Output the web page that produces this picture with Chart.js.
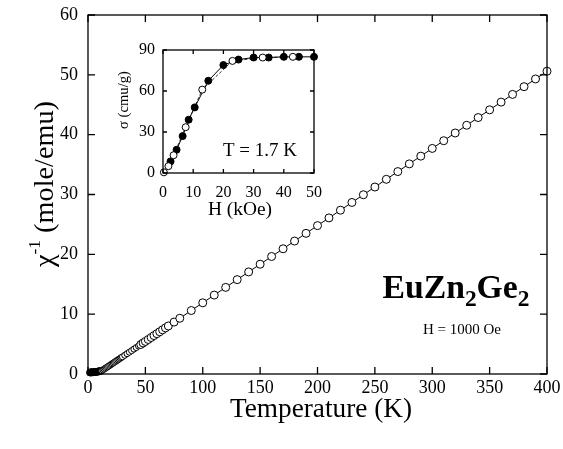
<!DOCTYPE html>
<html>
<head>
<meta charset="utf-8">
<script src="https://cdn.jsdelivr.net/npm/chart.js@4.4.0/dist/chart.umd.min.js"></script>
<style>
  html, body { margin: 0; padding: 0; background: #fff; }
  #wrap { position: relative; width: 563px; height: 449px; }
  #main { position: absolute; left: 0; top: 0; }
  #inset { position: absolute; left: 105px; top: 40px; }
</style>
</head>
<body>
<div id="wrap">
  <canvas id="main" width="563" height="449"></canvas>
  <canvas id="inset" width="220" height="185"></canvas>
</div>
<script>
// main panel: inverse susceptibility vs temperature
const lowTemps = [1.8, 2.5, 3, 4, 5, 6, 7, 8, 9, 10, 11];
const lowChiInv = [0.25, 0.27, 0.28, 0.3, 0.31, 0.33, 0.35, 0.38, 0.42, 0.47, 0.51];

const temps = [12, 13, 14, 15, 16, 17, 18, 19, 20, 21, 22, 23, 24, 25, 26, 27, 28, 29, 30,
  32, 34, 36, 38, 40, 42, 44, 46, 48, 50, 52.5, 55, 57.5, 60, 62.5, 65, 67.5, 70, 75, 80,
  90, 100, 110, 120, 130, 140, 150, 160, 170, 180, 190, 200, 210, 220, 230, 240, 250,
  260, 270, 280, 290, 300, 310, 320, 330, 340, 350, 360, 370, 380, 390, 400];
const chiInv = [0.55, 0.68, 0.81, 0.94, 1.06, 1.19, 1.32, 1.45, 1.58, 1.71, 1.84, 1.97, 2.10, 2.23, 2.35, 2.48, 2.61, 2.74, 2.87,
  3.13, 3.39, 3.64, 3.90, 4.16, 4.42, 4.68, 4.93, 5.19, 5.45, 5.77, 6.10, 6.42, 6.74, 7.06, 7.39, 7.71, 8.03, 8.68, 9.32,
  10.61, 11.9, 13.19, 14.48, 15.77, 17.06, 18.35, 19.64, 20.93, 22.22, 23.51, 24.8, 26.09, 27.38, 28.67, 29.96, 31.25,
  32.54, 33.83, 35.12, 36.41, 37.7, 38.99, 40.28, 41.57, 42.86, 44.15, 45.44, 46.73, 48.02, 49.31, 50.6];

const tempTicks = [0, 50, 100, 150, 200, 250, 300, 350, 400];
const chiTicks = [0, 10, 20, 30, 40, 50, 60];

// inset: magnetization vs field at 1.7 K
const fieldUp = [2.5, 4.5, 6.5, 8.5, 10.5, 15, 20, 25, 30, 35, 40, 45, 50];
const sigmaUp = [8.5, 17, 27, 39, 48, 67.5, 79, 83, 84.5, 84.5, 85, 85, 85];
const fieldDown = [0.3, 1.8, 3.5, 7.5, 13, 23, 33, 43];
const sigmaDown = [0.5, 5, 13, 33.5, 61, 82, 84.5, 85];

const fieldTicks = [0, 10, 20, 30, 40, 50];
const sigmaTicks = [0, 30, 60, 90];

const SERIF = '"Liberation Serif", "Times New Roman", serif';

function pts(xs, ys) {
  return xs.map((x, i) => ({ x: x, y: ys[i] }));
}

// frame with inward tick marks on all four sides
function framePlugin(len) {
  return {
    id: 'frame',
    afterDatasetsDraw(chart) {
      const ctx = chart.ctx;
      const a = chart.chartArea;
      const xs = chart.scales.x, ys = chart.scales.y;
      ctx.save();
      ctx.strokeStyle = '#000';
      ctx.lineWidth = 1.3;
      ctx.strokeRect(a.left, a.top, a.right - a.left, a.bottom - a.top);
      ctx.beginPath();
      xs.ticks.forEach(t => {
        const px = xs.getPixelForValue(t.value);
        ctx.moveTo(px, a.bottom); ctx.lineTo(px, a.bottom - len);
        ctx.moveTo(px, a.top); ctx.lineTo(px, a.top + len);
      });
      ys.ticks.forEach(t => {
        const py = ys.getPixelForValue(t.value);
        ctx.moveTo(a.left, py); ctx.lineTo(a.left + len, py);
        ctx.moveTo(a.right, py); ctx.lineTo(a.right - len, py);
      });
      ctx.stroke();
      ctx.restore();
    }
  };
}

// text runs [str, size, dy], drawn one after another, sized to a given width
function runsWidth(ctx, runs, weight) {
  let w = 0;
  runs.forEach(r => {
    ctx.font = (weight || '') + ' ' + r[1] + 'px ' + SERIF;
    w += ctx.measureText(r[0]).width;
  });
  return w;
}
function drawFitted(ctx, runs, cx, y, width, weight) {
  const w = runsWidth(ctx, runs, weight);
  const k = width / w;
  ctx.save();
  ctx.translate(cx, y);
  ctx.scale(k, k);
  ctx.textAlign = 'left';
  let x = -w / 2;
  runs.forEach(r => {
    ctx.font = (weight || '') + ' ' + r[1] + 'px ' + SERIF;
    ctx.fillText(r[0], x, r[2] || 0);
    x += ctx.measureText(r[0]).width;
  });
  ctx.restore();
}

const mainLabels = {
  id: 'mainLabels',
  afterDraw(chart) {
    const ctx = chart.ctx;
    ctx.save();
    ctx.fillStyle = '#000';
    ctx.textBaseline = 'alphabetic';

    drawFitted(ctx, [['Temperature (K)', 26, 0]], 321, 417, 182);

    ctx.save();
    ctx.translate(53, 184);
    ctx.rotate(-Math.PI / 2);
    drawFitted(ctx, [['\u03c7', 26, 0], ['-1', 16, -12], [' (mole/emu)', 26, 0]], 0, 0, 166);
    ctx.restore();

    drawFitted(ctx, [['EuZn', 33, 0], ['2', 23, 8], ['Ge', 33, 0], ['2', 23, 8]],
      456, 298, 147, 'bold');

    drawFitted(ctx, [['H = 1000 Oe', 15, 0]], 462, 334, 78);
    ctx.restore();
  }
};

const insetLabels = {
  id: 'insetLabels',
  afterDraw(chart) {
    const ctx = chart.ctx;
    ctx.save();
    ctx.fillStyle = '#000';
    ctx.textBaseline = 'alphabetic';
    drawFitted(ctx, [['H (kOe)', 19, 0]], 135, 175, 64);
    drawFitted(ctx, [['T = 1.7 K', 19, 0]], 155, 116, 74);
    ctx.save();
    ctx.translate(23, 60);
    ctx.rotate(-Math.PI / 2);
    drawFitted(ctx, [['\u03c3 (cmu/g)', 14, 0]], 0, 0, 58);
    ctx.restore();
    ctx.restore();
  }
};

function setTicks(list) {
  return s => { s.ticks = list.map(v => ({ value: v })); };
}

new Chart(document.getElementById('main'), {
  type: 'scatter',
  data: {
    datasets: [
      {
        data: pts(temps, chiInv),
        showLine: true,
        borderColor: '#000',
        borderWidth: 1,
        pointBackgroundColor: '#fff',
        pointBorderColor: '#000',
        pointBorderWidth: 1,
        pointRadius: c => (c.raw && c.raw.x < 45 ? 3 : 4),
        clip: false
      },
      {
        data: pts(lowTemps, lowChiInv),
        showLine: true,
        borderColor: '#000',
        borderWidth: 1,
        pointBackgroundColor: '#000',
        pointBorderColor: '#000',
        pointRadius: 3.5,
        clip: false
      }
    ]
  },
  options: {
    responsive: false,
    animation: false,
    events: [],
    layout: { autoPadding: false, padding: { left: 0, top: 15, right: 16, bottom: 0 } },
    plugins: { legend: { display: false }, tooltip: { enabled: false } },
    scales: {
      x: {
        type: 'linear', min: 0, max: 400,
        afterBuildTicks: setTicks(tempTicks),
        afterFit: s => { s.height = 75; s.paddingLeft = 0; s.paddingRight = 0; },
        grid: { display: false, drawTicks: false },
        border: { display: false },
        ticks: { color: '#000', padding: 3, font: { family: SERIF, size: 18 } }
      },
      y: {
        type: 'linear', min: 0, max: 60,
        afterBuildTicks: setTicks(chiTicks),
        afterFit: s => { s.width = 88; s.paddingTop = 0; s.paddingBottom = 0; },
        grid: { display: false, drawTicks: false },
        border: { display: false },
        ticks: { color: '#000', padding: 10, font: { family: SERIF, size: 18 } }
      }
    }
  },
  plugins: [framePlugin(7), mainLabels]
});

new Chart(document.getElementById('inset'), {
  type: 'scatter',
  data: {
    datasets: [
      {
        data: pts(fieldDown, sigmaDown),
        showLine: true,
        borderColor: '#000',
        borderWidth: 0.8,
        borderDash: [3, 2],
        pointBackgroundColor: '#fff',
        pointBorderColor: '#000',
        pointBorderWidth: 1,
        pointRadius: 3.5,
        clip: false
      },
      {
        data: pts(fieldUp, sigmaUp),
        showLine: true,
        borderColor: '#000',
        borderWidth: 1,
        pointBackgroundColor: '#000',
        pointBorderColor: '#000',
        pointRadius: 3.5,
        clip: false
      }
    ]
  },
  options: {
    responsive: false,
    animation: false,
    events: [],
    layout: { autoPadding: false, padding: { left: 0, top: 10, right: 11, bottom: 0 } },
    plugins: { legend: { display: false }, tooltip: { enabled: false } },
    scales: {
      x: {
        type: 'linear', min: 0, max: 50,
        afterBuildTicks: setTicks(fieldTicks),
        afterFit: s => { s.height = 52; s.paddingLeft = 0; s.paddingRight = 0; },
        grid: { display: false, drawTicks: false },
        border: { display: false },
        ticks: { color: '#000', padding: 10, font: { family: SERIF, size: 16 } }
      },
      y: {
        type: 'linear', min: 0, max: 90,
        afterBuildTicks: setTicks(sigmaTicks),
        afterFit: s => { s.width = 58; s.paddingTop = 0; s.paddingBottom = 0; },
        grid: { display: false, drawTicks: false },
        border: { display: false },
        ticks: { color: '#000', padding: 8, font: { family: SERIF, size: 16 } }
      }
    }
  },
  plugins: [framePlugin(4), insetLabels]
});
</script>
</body>
</html>
